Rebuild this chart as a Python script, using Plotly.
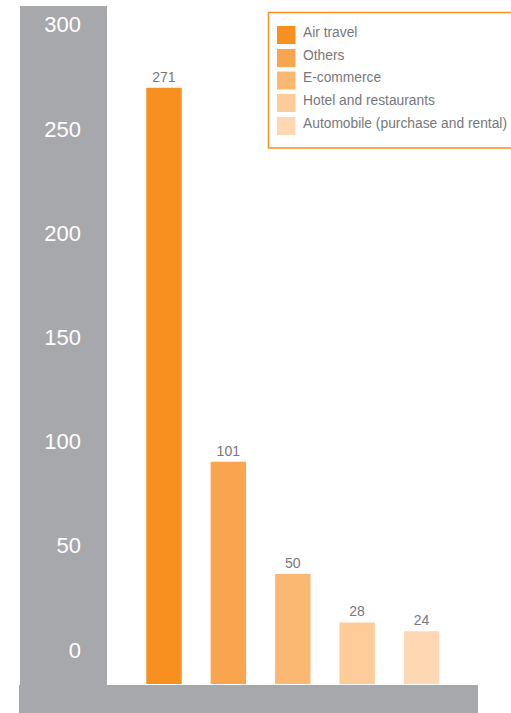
import plotly.graph_objects as go

# Spending categories and values
categories = ["Air travel", "Others", "E-commerce", "Hotel and restaurants",
              "Automobile (purchase and rental)"]
values = [271, 101, 50, 28, 24]
colors = ["#F7901E", "#F9A44E", "#FBB872", "#FDCC99", "#FED8B2"]
tick_values = [0, 50, 100, 150, 200, 250, 300]

W, H = 511, 713
M_L, M_R, M_T, M_B = 20, 33, 24, 29
PW, PH = W - M_L - M_R, H - M_T - M_B
GREY = "#A7A8AB"
TEXT_GREY = "#77787B"


def px(x):
    return (x - M_L) / PW


def py(y):
    return (H - M_B - y) / PH


fig = go.Figure()
fig.add_trace(go.Bar(
    x=list(range(len(categories))),
    y=values,
    marker=dict(color=colors, line=dict(width=0)),
    width=0.55,
    text=values,
    texttemplate="%{text}",
    textposition="outside",
    textfont=dict(color=TEXT_GREY, size=14, family="Liberation Sans"),
    cliponaxis=False,
    showlegend=False,
    hoverinfo="x+y",
))

shapes = [
    # grey value band on the left
    dict(type="rect", xref="paper", yref="paper", x0=px(20), x1=px(107),
         y0=py(685), y1=py(6), fillcolor=GREY, line=dict(width=0), layer="below"),
    # grey base band
    dict(type="rect", xref="paper", yref="paper", x0=px(19), x1=px(478),
         y0=py(713), y1=py(685), fillcolor=GREY, line=dict(width=0), layer="below"),
    # legend frame
    dict(type="rect", xref="paper", yref="paper", x0=px(268.5), x1=px(530),
         y0=py(148), y1=py(12.5), fillcolor="rgba(0,0,0,0)",
         line=dict(color="#F7901E", width=1.5)),
]
annotations = []
row_y = [35, 58, 80.5, 103, 126]
for cat, col, yc in zip(categories, colors, row_y):
    shapes.append(dict(type="rect", xref="paper", yref="paper",
                       x0=px(277), x1=px(295.5), y0=py(yc + 9), y1=py(yc - 9),
                       fillcolor=col, line=dict(width=0)))
    annotations.append(dict(xref="paper", yref="paper", x=px(301), y=py(yc - 2.5),
                            text=cat, showarrow=False, xanchor="left", yanchor="middle",
                            font=dict(color=TEXT_GREY, size=13.8, family="Liberation Sans")))

fig.update_layout(
    width=W, height=H,
    margin=dict(l=M_L, r=M_R, t=M_T, b=M_B, pad=0),
    paper_bgcolor="white", plot_bgcolor="rgba(0,0,0,0)",
    bargap=0.45,
    xaxis=dict(range=[-2.236, 4.876], visible=False, fixedrange=True),
    yaxis=dict(range=[0, 300], visible=False, fixedrange=True),
    yaxis2=dict(range=[-16.31, 300.34], overlaying="y", anchor="free", position=px(81),
                side="left", tickvals=tick_values, ticks="", showgrid=False,
                zeroline=False, showline=False,
                tickfont=dict(color="white", size=22, family="Liberation Sans")),
    shapes=shapes,
    annotations=annotations,
    showlegend=False,
)
fig.add_trace(go.Scatter(x=[None], y=[None], yaxis="y2", showlegend=False, hoverinfo="skip"))

fig.write_html("out.html")
